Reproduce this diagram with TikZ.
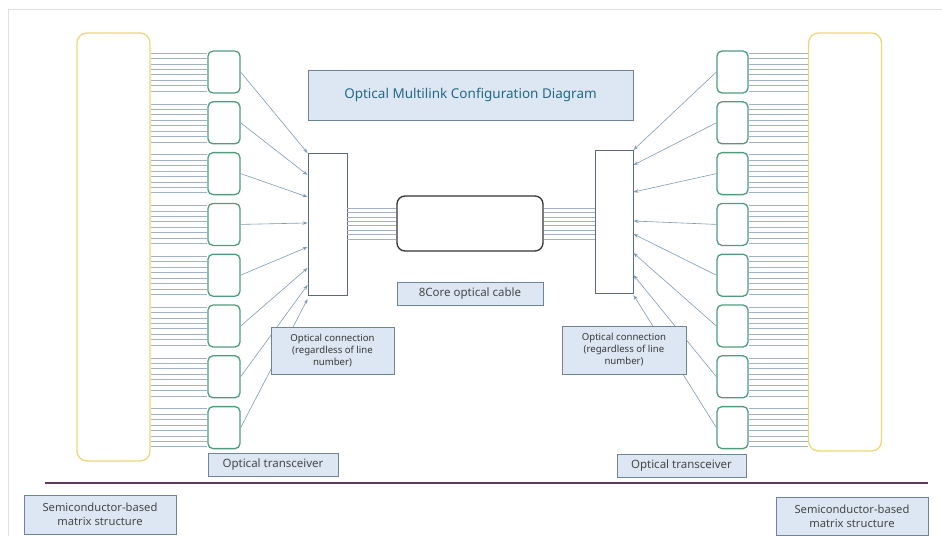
\documentclass[tikz,border=0pt]{standalone}
\usepackage{fontspec}
\setmainfont{Noto Sans}
\usetikzlibrary{arrows.meta}
\definecolor{matyellow}{RGB}{238,214,120}
\definecolor{trgreen}{RGB}{78,156,124}
\definecolor{fibre}{RGB}{160,178,196}
\definecolor{linkblue}{RGB}{128,155,180}
\definecolor{lblfill}{RGB}{220,231,243}
\definecolor{lbldraw}{RGB}{112,132,152}
\definecolor{titleblue}{RGB}{36,104,134}
\definecolor{sepline}{RGB}{96,58,96}

\begin{document}
\begin{tikzpicture}[x=1pt,y=-1pt,
        mat/.style={draw=matyellow,line width=1.3pt,rounded corners=10pt,minimum width=73pt,inner sep=0pt},
        trx/.style={draw=trgreen,line width=1.3pt,rounded corners=5pt,minimum width=32pt,minimum height=42pt,inner sep=0pt},
        conbox/.style={draw=lbldraw!80!black,line width=0.9pt,minimum width=39pt,minimum height=142pt,inner sep=0pt},
        lbl/.style={draw=lbldraw,fill=lblfill,line width=1pt,inner sep=1pt,align=center,text=black!72,font=\fontsize{11.5}{13.5}\selectfont},
        fibre/.style={draw=fibre,line width=0.5pt},
        link/.style={draw=linkblue,line width=0.6pt,-{Stealth[length=5pt, width=3.5pt]}}]
        \useasboundingbox (0,0) rectangle (942,536);
        \draw[black!12] (942,9) -- (8,9) -- (8,536);
        \node[mat,minimum height=428pt] (matL) at (113.5,247) {};
        \node[mat,minimum height=418pt] (matR) at (845,242) {};
        \foreach \i in {1,...,8} {
            \node[trx] (trL\i) at (224,{72+50.8*(\i-1)}) {};
            \node[trx,minimum width=31pt] (trR\i) at (732.5,{72+50.8*(\i-1)}) {};
        }
        \foreach \i in {1,...,8}
            \foreach \k in {0,...,7} {
                \path ([yshift={19-5.43*\k}]trL\i.west) coordinate (fl);
                \draw[fibre] (matL.east |- fl) -- (fl);
                \path ([yshift={19-5.43*\k}]trR\i.east) coordinate (fr);
                \draw[fibre] (fr) -- (matR.west |- fr);
            }
        \node[conbox] (conL) at (327.5,224) {};
        \node[conbox,minimum width=38pt,minimum height=143pt] (conR) at (614,221.5) {};
        \node[draw=black!80,line width=1.3pt,rounded corners=8pt,minimum width=146pt,minimum height=55pt] (cable) at (470,223.5) {};
        \foreach \k in {0,...,7} {
            \path ([yshift={15.5-4.43*\k}]cable.west) coordinate (cl);
            \draw[fibre] (conL.east |- cl) -- (cl);
            \draw[fibre] (cable.east |- cl) -- (conR.west |- cl);
        }
        \foreach \i/\yv in {1/153,2/175,3/197,4/223,5/247,6/268,7/285,8/299}
            \draw[link] (trL\i.east) -- ([yshift={224-\yv}]conL.west);
        \foreach \i/\yv in {1/150,2/165,3/192,4/221,5/234,6/253,7/275,8/295}
            \draw[link] (trR\i.west) -- ([yshift={221.5-\yv}]conR.east);
        \node[lbl,minimum width=325pt,minimum height=50pt,text=titleblue,font=\fontsize{13.5}{16}\selectfont] (title) at (470.5,95) {Optical Multilink Configuration Diagram};
        \node[lbl,minimum width=146pt,minimum height=23pt] (cablelbl) at (470,293.5) {8Core optical cable};
        \node[lbl,minimum width=123pt,minimum height=47pt,text=black!78,font=\fontsize{9.6}{12}\selectfont] (conLlbl) at (332.5,350.5) {Optical connection\\(regardless of line\\number)};
        \node[lbl,minimum width=124pt,minimum height=48pt,text=black!78,font=\fontsize{9.6}{12}\selectfont] (conRlbl) at (624,350) {Optical connection\\(regardless of line\\number)};
        \node[lbl,minimum width=130pt,minimum height=23pt] (trLlbl) at (273,464.5) {Optical transceiver};
        \node[lbl,minimum width=129pt,minimum height=23pt] (trRlbl) at (681.5,465.5) {Optical transceiver};
        \draw[sepline,line width=1.6pt] (45,483) -- (928,483);
        \node[lbl,minimum width=152pt,minimum height=39pt,font=\fontsize{11.2}{14}\selectfont] (semiL) at (100,514.5) {Semiconductor-based\\matrix structure};
        \node[lbl,minimum width=152pt,minimum height=38pt,font=\fontsize{11.2}{14}\selectfont] (semiR) at (852,516) {Semiconductor-based\\matrix structure};
    \end{tikzpicture}
\end{document}
